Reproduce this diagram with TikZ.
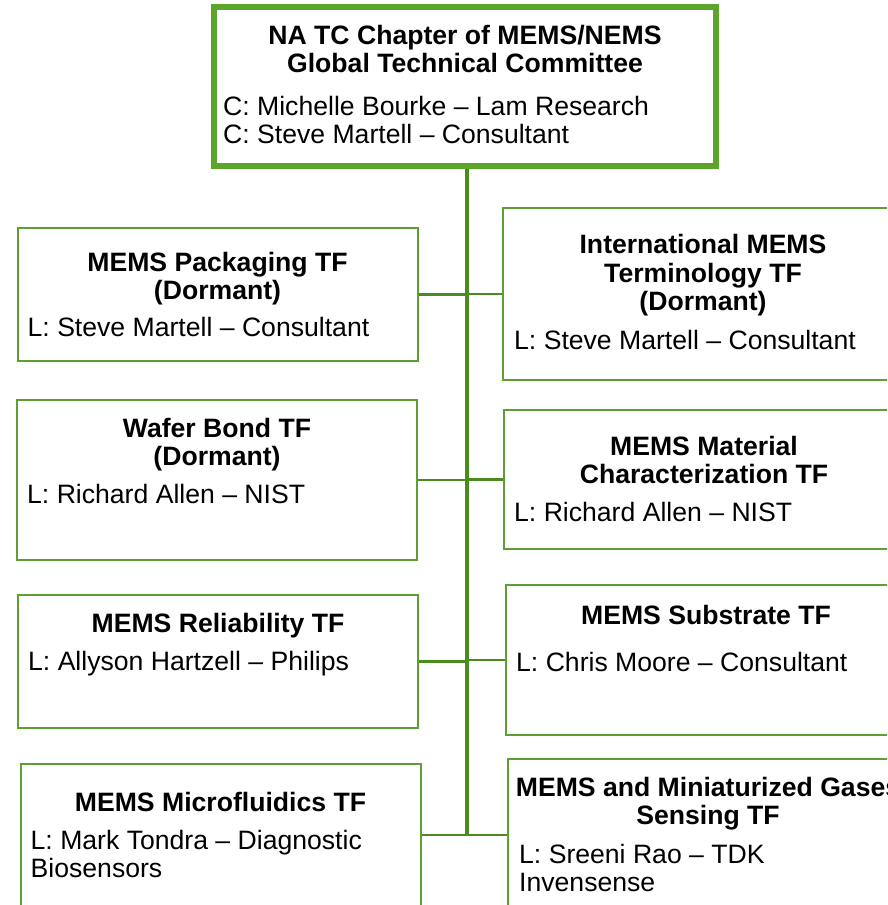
\documentclass[tikz,border=0pt]{standalone}
\usepackage{fontspec}
\setmainfont{Liberation Sans}
\usepackage{xcolor}
\usepackage{tikz}
\usetikzlibrary{positioning}

\definecolor{topgreen}{HTML}{5AA52A}
\definecolor{boxgreen}{HTML}{5E9F34}
\definecolor{linegreen}{HTML}{4A8B1D}

\begin{document}
\begin{tikzpicture}[
    x=1pt, y=-1pt,
    tfbox/.style={rectangle, draw=boxgreen, line width=2pt, minimum width=400pt, inner sep=0pt},
    chair/.style={rectangle, draw=topgreen, line width=6pt, minimum width=502pt, minimum height=159pt, inner sep=0pt},
    head/.style={align=center, inner sep=0pt, font=\fontsize{26.6}{28.3}\selectfont\bfseries, text=black},
    lead/.style={align=left, inner sep=0pt, font=\fontsize{26.6}{28}\selectfont, text=black},
    trunk/.style={draw=linegreen, line width=3.5pt},
    link/.style={draw=linegreen, line width=2.5pt},
    ]
    \useasboundingbox (0,0) rectangle (887,905);
    \clip (0,0) rectangle (887,905);

    % committee
    \node [chair] (gtc) at (465,86.5) {};
    \node [head, anchor=base] (gtc-h) at ([yshift=-68.5pt]gtc.north) {NA TC Chapter of MEMS/NEMS\\Global Technical Committee};
    \node [lead, anchor=base west] (gtc-l) at ([xshift=12pt,yshift=-139pt]gtc.north west) {C: Michelle Bourke -- Lam Research\\C: Steve Martell -- Consultant};

    % left column
    \node [tfbox, minimum height=133pt] (pack) at (217.5,294.5) {};
    \node [head, anchor=base] (pack-h) at ([yshift=-72.5pt]pack.north) {MEMS Packaging TF\\(Dormant)};
    \node [lead, anchor=base west] (pack-l) at ([xshift=11pt,yshift=-109pt]pack.north west) {L: Steve Martell -- Consultant};

    \node [tfbox, minimum height=160pt] (bond) at (217,480) {};
    \node [head, anchor=base] (bond-h) at ([yshift=-66.5pt]bond.north) {Wafer Bond TF\\(Dormant)};
    \node [lead, anchor=base west] (bond-l) at ([xshift=11pt,yshift=-104pt]bond.north west) {L: Richard Allen -- NIST};

    \node [tfbox, minimum height=133pt] (rel) at (218,661.5) {};
    \node [head, anchor=base] (rel-h) at ([yshift=-38pt]rel.north) {MEMS Reliability TF};
    \node [lead, anchor=base west] (rel-l) at ([xshift=11pt,yshift=-76pt]rel.north west) {L: Allyson Hartzell -- Philips};

    \node [tfbox, minimum height=142pt] (fluid) at (220.5,835) {};
    \node [head, anchor=base] (fluid-h) at ([yshift=-48pt]fluid.north) {MEMS Microfluidics TF};
    \node [lead, anchor=base west] (fluid-l) at ([xshift=11pt,yshift=-114pt]fluid.north west) {L: Mark Tondra -- Diagnostic\\Biosensors};

    % right column
    \node [tfbox, minimum height=172pt] (term) at (703,294) {};
    \node [head, anchor=base] (term-h) at ([yshift=-103.5pt]term.north) {International MEMS\\Terminology TF\\(Dormant)};
    \node [lead, anchor=base west] (term-l) at ([xshift=12pt,yshift=-142pt]term.north west) {L: Steve Martell -- Consultant};

    \node [tfbox, minimum height=139pt] (mat) at (704,479.5) {};
    \node [head, anchor=base] (mat-h) at ([yshift=-74.5pt]mat.north) {MEMS Material\\Characterization TF};
    \node [lead, anchor=base west] (mat-l) at ([xshift=11pt,yshift=-112pt]mat.north west) {L: Richard Allen -- NIST};

    \node [tfbox, minimum height=150pt] (sub) at (706,660) {};
    \node [head, anchor=base] (sub-h) at ([yshift=-40pt]sub.north) {MEMS Substrate TF};
    \node [lead, anchor=base west] (sub-l) at ([xshift=11pt,yshift=-87pt]sub.north west) {L: Chris Moore -- Consultant};

    \node [tfbox, minimum height=152pt] (gas) at (708,835) {};
    \node [head, anchor=base] (gas-h) at ([yshift=-66.5pt]gas.north) {MEMS and Miniaturized Gases\\Sensing TF};
    \node [lead, anchor=base west] (gas-l) at ([xshift=12pt,yshift=-133pt]gas.north west) {L: Sreeni Rao -- TDK\\Invensense};

    % connectors
    \coordinate (bend) at (467,835);
    \draw [trunk] (gtc.south -| bend) -- (bend);
    \draw [link] (pack.east) -- (pack.east -| bend);
    \draw [link] (term.west) -- (term.west -| bend);
    \draw [link] (bond.east) -- (bond.east -| bend);
    \draw [link] (mat.west) -- (mat.west -| bend);
    \draw [link] (rel.east) -- (rel.east -| bend);
    \draw [link] (sub.west) -- (sub.west -| bend);
    \draw [link] (fluid.east) -- (bend);
    \draw [link] (gas.west) -- (bend);
\end{tikzpicture}
\end{document}
